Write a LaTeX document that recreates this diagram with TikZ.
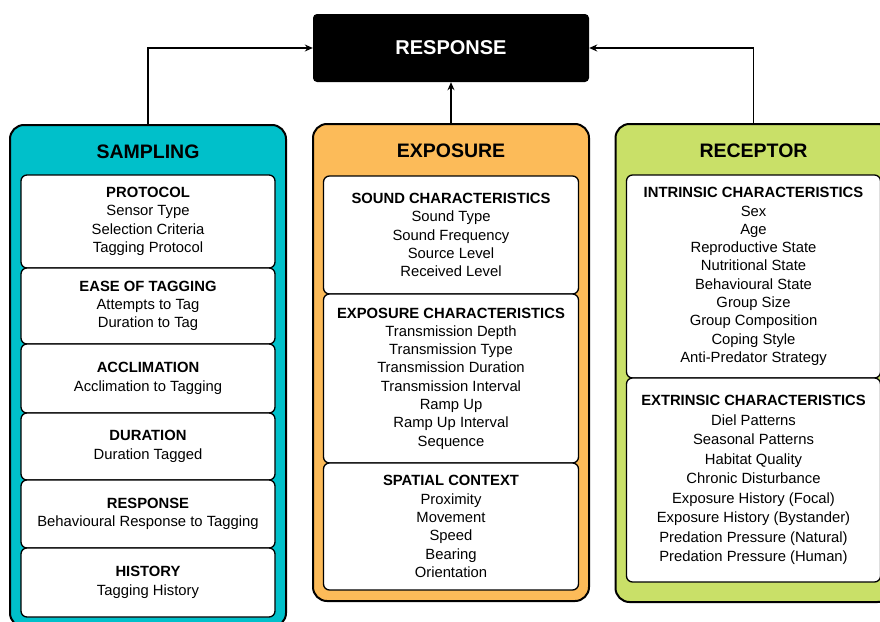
\documentclass[tikz,border=0pt]{standalone}
\usepackage{fontspec}
\setmainfont{Liberation Sans}
\usetikzlibrary{arrows.meta, positioning, calc}
\definecolor{samplingcol}{RGB}{0,192,202}
\definecolor{exposurecol}{RGB}{252,187,89}
\definecolor{receptorcol}{RGB}{201,224,104}

\begin{document}
\begin{tikzpicture}[x=1pt, y=-1pt,
    group/.style={draw, line width=2, rounded corners=14, minimum width=276, anchor=north, outer sep=0},
    grouptitle/.style={font=\fontsize{19.5}{22}\selectfont\bfseries},
    item/.style={draw, fill=white, line width=1.3, rounded corners=6, minimum width=254, align=center, outer sep=0, inner sep=0, font=\fontsize{14.8}{18.3}\selectfont},
    link/.style={line width=1.3, -{Stealth[length=8, width=7]}}]

                    \useasboundingbox (0,0) rectangle (880,621);
                    \clip (0,0) rectangle (880,621);

                    \node [fill=black, rounded corners=4, minimum width=276, minimum height=68, text=white, font=\fontsize{20}{24}\selectfont\bfseries] (resp) at (451,48) {RESPONSE};

                    \node [group, fill=samplingcol, minimum height=502] (samp) at (148,125) {};
                    \node [group, fill=exposurecol, minimum height=477] (expo) at (451,124) {};
                    \node [group, fill=receptorcol, minimum height=478] (rece) at (753.5,124) {};

                    \node [grouptitle] (sampTitle) at ($(samp.north) + (0,27)$) {SAMPLING};
                    \node [grouptitle] (expoTitle) at ($(expo.north) + (0,27)$) {EXPOSURE};
                    \node [grouptitle] (receTitle) at ($(rece.north) + (0,27)$) {RECEPTOR};

                    \node [item, minimum height=93, anchor=north] (protocol) at (148,175) {\textbf{PROTOCOL}\\Sensor Type\\Selection Criteria\\Tagging Protocol};
                    \node [item, minimum height=76, below=0pt of protocol] (ease) {\textbf{EASE OF TAGGING}\\Attempts to Tag\\Duration to Tag};
                    \node [item, minimum height=69, below=0pt of ease] (acclim) {\textbf{ACCLIMATION}\\Acclimation to Tagging};
                    \node [item, minimum height=67, below=0pt of acclim] (duration) {\textbf{DURATION}\\Duration Tagged};
                    \node [item, minimum height=68, below=0pt of duration] (tagresp) {\textbf{RESPONSE}\\Behavioural Response to Tagging};
                    \node [item, minimum height=69, below=0pt of tagresp] (history) {\textbf{HISTORY}\\Tagging History};

                    \node [item, minimum width=255, minimum height=118, anchor=north] (sound) at (451,176) {\textbf{SOUND CHARACTERISTICS}\\Sound Type\\Sound Frequency\\Source Level\\Received Level};
                    \node [item, minimum width=255, minimum height=169, below=0pt of sound] (expchar) {\textbf{EXPOSURE CHARACTERISTICS}\\Transmission Depth\\Transmission Type\\Transmission Duration\\Transmission Interval\\Ramp Up\\Ramp Up Interval\\Sequence};
                    \node [item, minimum width=255, minimum height=127, below=0pt of expchar] (spatial) {\textbf{SPATIAL CONTEXT}\\Proximity\\Movement\\Speed\\Bearing\\Orientation};

                    \node [item, minimum height=203, anchor=north] (intrinsic) at (753.5,175) {\textbf{INTRINSIC CHARACTERISTICS}\\Sex\\Age\\Reproductive State\\Nutritional State\\Behavioural State\\Group Size\\Group Composition\\Coping Style\\Anti-Predator Strategy};
                    \node [item, minimum height=204, below=0pt of intrinsic, font=\fontsize{14.8}{19.5}\selectfont] (extrinsic) {\textbf{EXTRINSIC CHARACTERISTICS}\\Diel Patterns\\Seasonal Patterns\\Habitat Quality\\Chronic Disturbance\\Exposure History (Focal)\\Exposure History (Bystander)\\Predation Pressure (Natural)\\Predation Pressure (Human)};

                    \draw [link] (samp.north) |- (resp.west);
                    \draw [link] (expo.north) -- (resp.south);
                    \draw [link] (rece.north) |- (resp.east);
                \end{tikzpicture}
\end{document}
